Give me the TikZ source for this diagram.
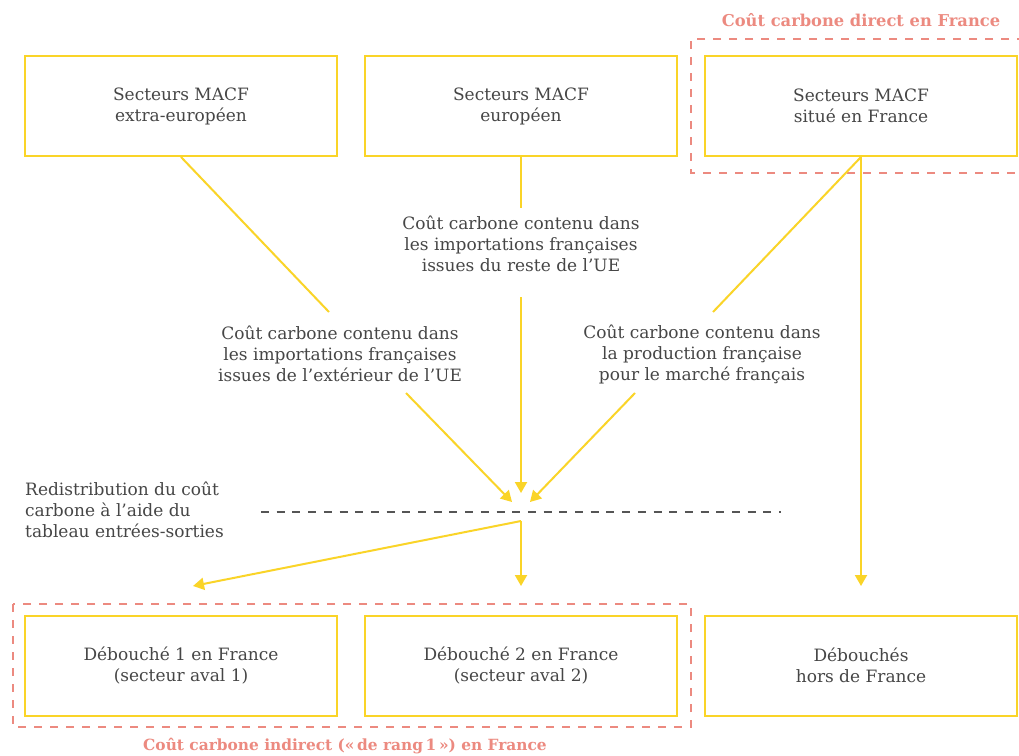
\documentclass[tikz,border=0pt]{standalone}
\usepackage{fontspec}
\setmainfont{DejaVu Serif}
\usetikzlibrary{arrows.meta}
\definecolor{ylw}{RGB}{250,212,40}
\definecolor{salmon}{RGB}{236,138,128}
\definecolor{txt}{RGB}{70,70,70}
\definecolor{dgray}{RGB}{85,85,85}
\begin{document}
\begin{tikzpicture}[x=1pt,y=-1pt,
  box/.style={draw=ylw,line width=2pt,minimum width=312pt,minimum height=100pt,inner sep=0pt,align=center,text=txt,font=\fontsize{17}{21}\selectfont},
  lbl/.style={align=center,text=txt,font=\fontsize{17}{21}\selectfont,inner sep=0pt},
  conn/.style={draw=ylw,line width=2pt},
  arr/.style={conn,-{Triangle[length=11pt,width=12pt]}},
  grp/.style={draw=salmon,line width=2pt,dash pattern=on 8pt off 8pt},
  grplbl/.style={text=salmon,font=\bfseries\fontsize{16.3}{19}\selectfont,inner sep=0pt},
  sep/.style={draw=dgray,line width=2pt,dash pattern=on 8pt off 7.7pt}
]
\useasboundingbox[fill=white] (0,0) rectangle (1019,755);

% group frames
\draw[grp] (1025,39) -- (691,39) -- (691,173) -- (1025,173);
\draw[grp] (13,604) rectangle (691,727);
\node[grplbl] (gtop) at (861,20) {Coût carbone direct en France};
\node[grplbl,font=\bfseries\fontsize{15.4}{19}\selectfont] (gbot) at (345,746) {Coût carbone indirect («\,de rang\,1\,») en France};

% top boxes
\node[box] (b1) at (181,106) {Secteurs MACF\\extra-européen};
\node[box] (b2) at (521,106) {Secteurs MACF\\européen};
\node[box] (b3) at (861,106) {Secteurs MACF\\situé en France};

% bottom boxes
\node[box] (d1) at (181,665.5) {Débouché 1 en France\\(secteur aval 1)};
\node[box] (d2) at (521,665.5) {Débouché 2 en France\\(secteur aval 2)};
\node[box] (d3) at (861,665.5) {Débouchés\\hors de France};

% flow labels
\node[lbl] (la) at (340,354) {Coût carbone contenu dans\\les importations françaises\\issues de l’extérieur de l’UE};
\node[lbl] (lb) at (521,244) {Coût carbone contenu dans\\les importations françaises\\issues du reste de l’UE};
\node[lbl] (lc) at (702,354) {Coût carbone contenu dans\\la production française\\pour le marché français};
\node[lbl,align=left,anchor=west] (lr) at (25,510) {Redistribution du coût\\carbone à l’aide du\\tableau entrées-sorties};

% coordinates
\coordinate (a1) at (329,312);
\coordinate (a2) at (406,393);
\coordinate (ta) at (512,502);
\coordinate (m1) at (521,208);
\coordinate (m2) at (521,297);
\coordinate (tb) at (521,493);
\coordinate (c1) at (713,312);
\coordinate (c2) at (635,393);
\coordinate (tc) at (530,502);
\coordinate (s1) at (261,512);
\coordinate (s2) at (781,512);
\coordinate (o) at (521,521);
\coordinate (t1) at (193,586);
\coordinate (t2) at (521,586);
\coordinate (t3) at (861,586);

% separator
\draw[sep] (s1) -- (s2);

% connectors
\draw[conn] (b1.south) -- (a1);
\draw[arr] (a2) -- (ta);
\draw[conn] (b2.south) -- (m1);
\draw[arr] (m2) -- (tb);
\draw[conn] (b3.south) -- (c1);
\draw[arr] (c2) -- (tc);
\draw[arr] (b3.south) -- (t3);
\draw[arr] (o) -- (t2);
\draw[arr] (o) -- (t1);
\end{tikzpicture}
\end{document}
